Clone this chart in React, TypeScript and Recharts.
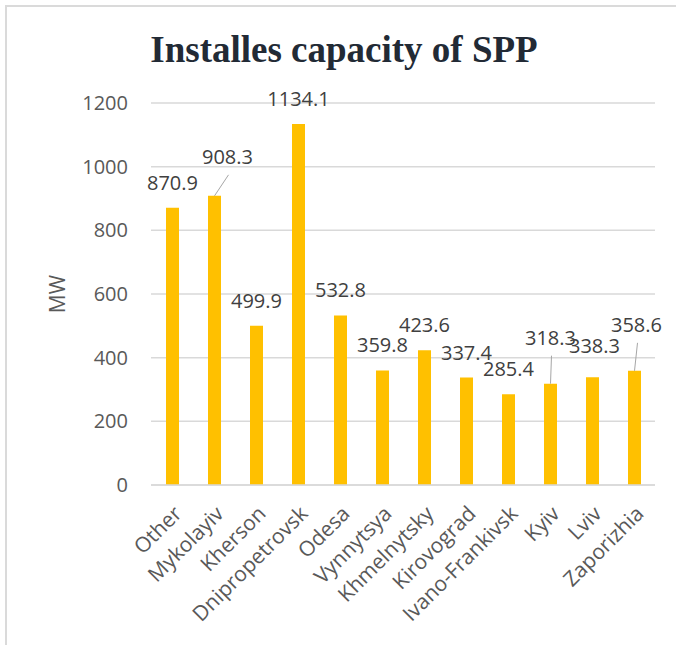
import React from "react";
import { BarChart, Bar, XAxis, YAxis, CartesianGrid, LabelList } from "recharts";

const regions = [
  "Other",
  "Mykolayiv",
  "Kherson",
  "Dnipropetrovsk",
  "Odesa",
  "Vynnytsya",
  "Khmelnytsky",
  "Kirovograd",
  "Ivano-Frankivsk",
  "Kyiv",
  "Lviv",
  "Zaporizhia",
];
const capacityMW = [870.9, 908.3, 499.9, 1134.1, 532.8, 359.8, 423.6, 337.4, 285.4, 318.3, 338.3, 358.6];
const yTicks = [0, 200, 400, 600, 800, 1000, 1200];

// labels that Excel nudged away from the bar (some with a leader line)
const labelShift: Record<string, { dx: number; dy: number; leader?: boolean }> = {
  Mykolayiv: { dx: 13, dy: -14, leader: true },
  Lviv: { dx: 2, dy: -6 },
  Kyiv: { dx: 0, dy: -21, leader: true },
  Zaporizhia: { dx: 2, dy: -21, leader: true },
};

const data = regions.map((name, i) => ({ name, value: capacityMW[i] }));

const FONT = "'Open Sans', sans-serif";

const ValueLabel = (props: any) => {
  const { x, y, width, value, index } = props;
  const shift = labelShift[regions[index]] ?? { dx: 0, dy: 0 };
  const cx = Number(x) + Number(width) / 2;
  const top = Number(y);
  const lx = cx + shift.dx;
  const ly = top - 25 + shift.dy;
  return (
    <g>
      {shift.leader && (
        <line x1={cx} y1={top} x2={lx + 1} y2={ly + 18} stroke="#A6A6A6" strokeWidth={1} />
      )}
      <text
        x={lx}
        y={ly + 7}
        textAnchor="middle"
        fontFamily={FONT}
        fontSize={20}
        fill="#404040"
      >
        {value}
      </text>
    </g>
  );
};

const CategoryTick = (props: any) => {
  const { x, y, payload } = props;
  const px = x + 11;
  const py = y + 22;
  return (
    <text
      x={px}
      y={py}
      transform={`rotate(-45, ${px}, ${py})`}
      textAnchor="end"
      fontFamily={FONT}
      fontSize={21}
      fill="#595959"
    >
      {payload.value}
    </text>
  );
};

const AxisTitle = (props: any) => {
  const vb = props.viewBox;
  const x = vb.x + 57;
  const y = vb.y + vb.height / 2;
  return (
    <text
      x={x}
      y={y}
      transform={`rotate(-90, ${x}, ${y})`}
      textAnchor="middle"
      dominantBaseline="central"
      fontFamily={FONT}
      fontSize={21}
      fill="#595959"
    >
      MW
    </text>
  );
};

export default function App() {
  return (
    <div style={{ position: "absolute", left: 0, top: 0, width: 676, height: 645, background: "#fff", overflow: "hidden" }}>
      <div
        style={{
          position: "absolute",
          left: 5,
          top: 5,
          width: 720,
          height: 700,
          borderTop: "2px solid #DADADA",
          borderLeft: "2px solid #DADADA",
        }}
      />
      <div
        style={{
          position: "absolute",
          left: 0,
          top: 31,
          width: 688,
          textAlign: "center",
          fontFamily: "'Liberation Serif', 'Times New Roman', serif",
          fontWeight: "bold",
          fontSize: 37,
          lineHeight: "37px",
          color: "#222A35",
        }}
      >
        Installes capacity of SPP
      </div>
      <div style={{ position: "absolute", left: 0, top: 0 }}>
        <BarChart
          width={676}
          height={645}
          data={data}
          margin={{ top: 103, right: 21, bottom: 30, left: 0 }}
        >
          <CartesianGrid vertical={false} stroke="#D9D9D9" strokeWidth={1.5} />
          <XAxis
            dataKey="name"
            interval={0}
            height={130}
            tickLine={false}
            axisLine={{ stroke: "#D9D9D9", strokeWidth: 1.5 }}
            tick={<CategoryTick />}
            tickSize={6}
            tickMargin={2}
          />
          <YAxis
            width={151}
            domain={[0, 1200]}
            ticks={yTicks}
            axisLine={false}
            tickLine={false}
            tickSize={6}
            tickMargin={17}
            tick={{ fontFamily: FONT, fontSize: 20, fill: "#595959" }}
            label={<AxisTitle />}
          />
          <Bar dataKey="value" fill="#FFC000" barSize={13} isAnimationActive={false}>
            <LabelList dataKey="value" content={<ValueLabel />} />
          </Bar>
        </BarChart>
      </div>
    </div>
  );
}
